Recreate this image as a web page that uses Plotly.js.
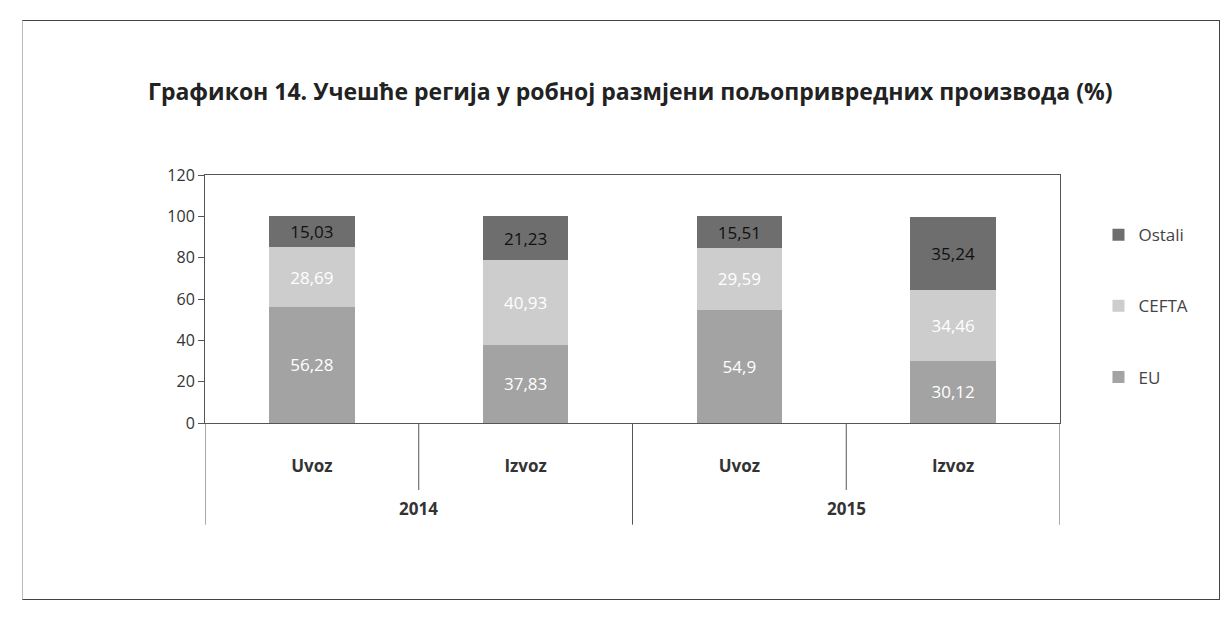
<!DOCTYPE html>
<html>
<head>
<meta charset="utf-8">
<script src="https://cdn.plot.ly/plotly-3.0.1.min.js"></script>
<style>
  body { margin: 0; background: #fff; }
  #frame { position: absolute; left: 22px; top: 20px; width: 1196px; height: 578px; border: 1px solid #444; border-left-color: #bbb; }
  #plot { position: absolute; left: 0; top: 0; width: 1232px; height: 617px; }
</style>
</head>
<body>
<div id="frame"></div>
<div id="plot"></div>
<script>
const years = ["2014", "2014", "2015", "2015"];
const flows = ["Uvoz", "Izvoz", "Uvoz", "Izvoz"];
const eu = [56.28, 37.83, 54.9, 30.12];
const cefta = [28.69, 40.93, 29.59, 34.46];
const ostali = [15.03, 21.23, 15.51, 35.24];

const fmt = v => String(v).replace(".", ",");
const font = "Open Sans, Lato, sans-serif";
const idx = flows.map((_, i) => i);

function series(name, vals, color, textColor, rank) {
  return {
    type: "bar",
    name: name,
    legendgroup: name,
    legendrank: rank,
    x: idx,
    y: vals,
    text: vals.map(fmt),
    textposition: "inside",
    insidetextanchor: "middle",
    textangle: 0,
    textfont: { family: font, size: 17, color: textColor },
    marker: { color: color, line: { width: 0 } },
    hoverinfo: "y+name"
  };
}

const traces = [
  series("EU", eu, "#a3a3a3", "#ffffff", 3),
  series("CEFTA", cefta, "#cdcdcd", "#ffffff", 2),
  series("Ostali", ostali, "#6e6e6e", "#111111", 1)
];

// year groups -> label under the middle, dividers at the group edges
const groups = [];
years.forEach((y, i) => {
  const g = groups.find(d => d.year === y);
  if (g) g.last = i; else groups.push({ year: y, first: i, last: i });
});

const line = { color: "#555", width: 1 };
const shapes = [];
groups.forEach(g => {
  shapes.push({ type: "line", xref: "x", yref: "paper", x0: g.first - 0.5, x1: g.first - 0.5, y0: 0, y1: -0.41, line });
  for (let i = g.first; i < g.last; i++) {
    shapes.push({ type: "line", xref: "x", yref: "paper", x0: i + 0.5, x1: i + 0.5, y0: 0, y1: -0.27, line });
  }
});
const lastG = groups[groups.length - 1];
shapes.push({ type: "line", xref: "x", yref: "paper", x0: lastG.last + 0.5, x1: lastG.last + 0.5, y0: 0, y1: -0.41, line });

const annotations = groups.map(g => ({
  text: "<b>" + g.year + "</b>",
  xref: "x", yref: "paper",
  x: (g.first + g.last) / 2, y: -0.345,
  yanchor: "middle", showarrow: false,
  font: { family: font, size: 17, color: "#333" }
}));

const layout = {
  width: 1232,
  height: 617,
  paper_bgcolor: "rgba(0,0,0,0)",
  plot_bgcolor: "#ffffff",
  barmode: "stack",
  bargap: 0.6,
  margin: { l: 205, r: 172, t: 175, b: 194 },
  title: {
    text: "<b>Графикон 14. Учешће регија у робној размјени пољопривредних производа (%)</b>",
    font: { family: font, size: 23, color: "#222" },
    x: 148 / 1232, xanchor: "left", xref: "container",
    y: 1 - 92 / 617, yanchor: "middle", yref: "container"
  },
  xaxis: {
    range: [-0.5, flows.length - 0.5],
    tickvals: idx,
    ticktext: flows.map(f => "<b>" + f + "</b>"),
    showline: true, linecolor: "#555", linewidth: 1,
    mirror: true,
    showgrid: false, zeroline: false,
    tickfont: { family: font, size: 17, color: "#333" },
    ticks: "", ticklabelstandoff: 28
  },
  yaxis: {
    range: [0, 120],
    dtick: 20,
    showgrid: false,
    zeroline: false,
    showline: true, linecolor: "#555", linewidth: 1,
    mirror: true,
    ticks: "outside", ticklen: 6, tickcolor: "#555",
    tickfont: { family: font, size: 16, color: "#333" }
  },
  shapes: shapes,
  annotations: annotations,
  legend: {
    x: 1.045, xanchor: "left",
    y: 0.83, yanchor: "top",
    traceorder: "grouped",
    tracegroupgap: 46,
    font: { family: font, size: 17, color: "#444" },
    itemwidth: 30
  },
  showlegend: true
};

Plotly.newPlot("plot", traces, layout, { displayModeBar: false, staticPlot: true });
</script>
</body>
</html>
